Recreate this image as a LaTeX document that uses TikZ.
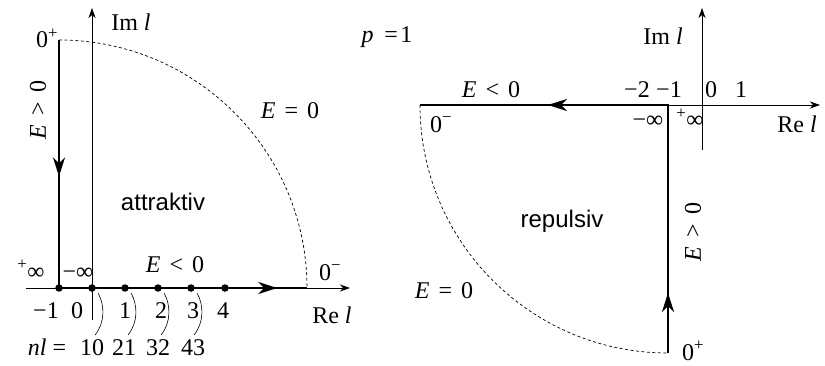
\documentclass[tikz,border=0pt]{standalone}
\usepackage{fontspec}
\setmainfont{Liberation Serif}
\setsansfont{Liberation Sans}
\usetikzlibrary{arrows.meta,decorations.markings,calc}
\tikzset{
  axis/.style={line width=0.9pt, -{Stealth[length=10pt,width=7pt,inset=3pt]}},
  branch/.style={line width=2.8pt},
  flow/.style 2 args={postaction={decorate, decoration={markings,
      mark=at position #1 with {\arrow{Stealth[length=19pt,width=12pt,inset=6pt]}},
      mark=at position #2 with {\arrow{Stealth[length=19pt,width=12pt,inset=6pt]}}}}},
  zeroline/.style={line width=0.7pt, dash pattern=on 3pt off 2.5pt},
  pole/.style={circle, fill, inner sep=0pt, minimum size=7.5pt},
  lbl/.style={anchor=base, inner sep=0pt, font=\fontsize{24}{28}\selectfont},
  region/.style={anchor=base, inner sep=0pt, font=\sffamily\fontsize{24}{28}\selectfont},
  ray/.style={line width=0.6pt}
}
\newcommand{\erel}[1]{\textit{E}\hspace{0.38em}#1\hspace{0.38em}0}

\begin{document}
\begin{tikzpicture}[x=1pt, y=1pt]
  \useasboundingbox (0,0) rectangle (825,365);
  % attraktiv
  \coordinate (reL) at (26,77);
  \coordinate (reR) at (350,77);
  \coordinate (imB) at (92,45);
  \coordinate (imT) at (92,357);
  \coordinate (topL) at (59,325);
  \coordinate (cornerL) at (59,77);
  \coordinate (endL) at (307,77);
  \draw[axis] (reL) -- (reR);
  \draw[axis] (imB) -- (imT);
  \draw[zeroline] (topL) arc[start angle=90, end angle=0, radius=248];
  \draw[branch, flow={0.275}{0.94}] (topL) -- (cornerL) -- (endL);
  \foreach \x [count=\i from 0] in {59,92,125,158,191,225}
    \node[pole] (pole\i) at (\x,77) {};
  \foreach \i in {1,...,4}
    \draw[ray] ($(pole\i)+(6,-5)$) .. controls ($(pole\i)+(13,-17)$) and ($(pole\i)+(13,-35)$) .. ($(pole\i)+(3,-47)$);
  \node[lbl] (imlabL) at (131,334) {Im \textit{l}};
  \node[lbl] (zeroTL) at (47,317) {0\textsuperscript{+}};
  \node[lbl, rotate=90, anchor=center] (eposL) at (38,255) {\erel{>}};
  \node[lbl] (ezeroL) at (290,247) {\erel{=}};
  \node[region] (attr) at (163,155) {attraktiv};
  \node[lbl] (pinfL) at (31,86) {\textsuperscript{+}∞};
  \node[lbl] (minfL) at (78,86) {−∞};
  \node[lbl] (enegL) at (175,93) {\erel{<}};
  \node[lbl] (zeroRL) at (330,85) {0\textsuperscript{−}};
  \node[lbl] (relabL) at (332,42) {Re \textit{l}};
  \foreach \x/\t in {46/−1, 77/0, 125/1, 161/2, 193/3, 223/4}
    \node[lbl] at (\x,47) {\t};
  \node[lbl] (nl) at (47,10) {\textit{nl} =};
  \foreach \x/\t in {92/10, 124/21, 158/32, 193/43}
    \node[lbl] at (\x,10) {\t};
  % repulsiv
  \coordinate (botR) at (668,12);
  \coordinate (cornerR) at (668,260);
  \coordinate (leftR) at (420,260);
  \coordinate (reRR) at (820,260);
  \coordinate (imRB) at (702,215);
  \coordinate (imRT) at (702,357);
  \draw[axis] (cornerR) -- (reRR);
  \draw[axis] (imRB) -- (imRT);
  \draw[zeroline] (leftR) arc[start angle=180, end angle=270, radius=248];
  \draw[branch, flow={0.121}{0.742}] (botR) -- (cornerR) -- (leftR);
  \node[lbl] (plab) at (387,322) {\textit{p}\hspace{0.45em}=\hspace{0.1em}1};
  \node[lbl] (imlabR) at (663,320) {Im \textit{l}};
  \node[lbl] (enegR) at (491,268) {\erel{<}};
  \foreach \x/\t in {637/−2, 669/−1, 711/0, 741/1}
    \node[lbl] at (\x,268) {\t};
  \node[lbl] (zeroLR) at (441,233) {0\textsuperscript{−}};
  \node[lbl] (minfR) at (648,237) {−∞};
  \node[lbl] (pinfR) at (690,237) {\textsuperscript{+}∞};
  \node[lbl] (relabR) at (797,233) {Re \textit{l}};
  \node[region] (rep) at (562,138) {repulsiv};
  \node[lbl] (ezeroR) at (444,67) {\erel{=}};
  \node[lbl, rotate=90, anchor=center] (eposR) at (693,133) {\erel{>}};
  \node[lbl] (zeroBR) at (693,5) {0\textsuperscript{+}};
\end{tikzpicture}
\end{document}
